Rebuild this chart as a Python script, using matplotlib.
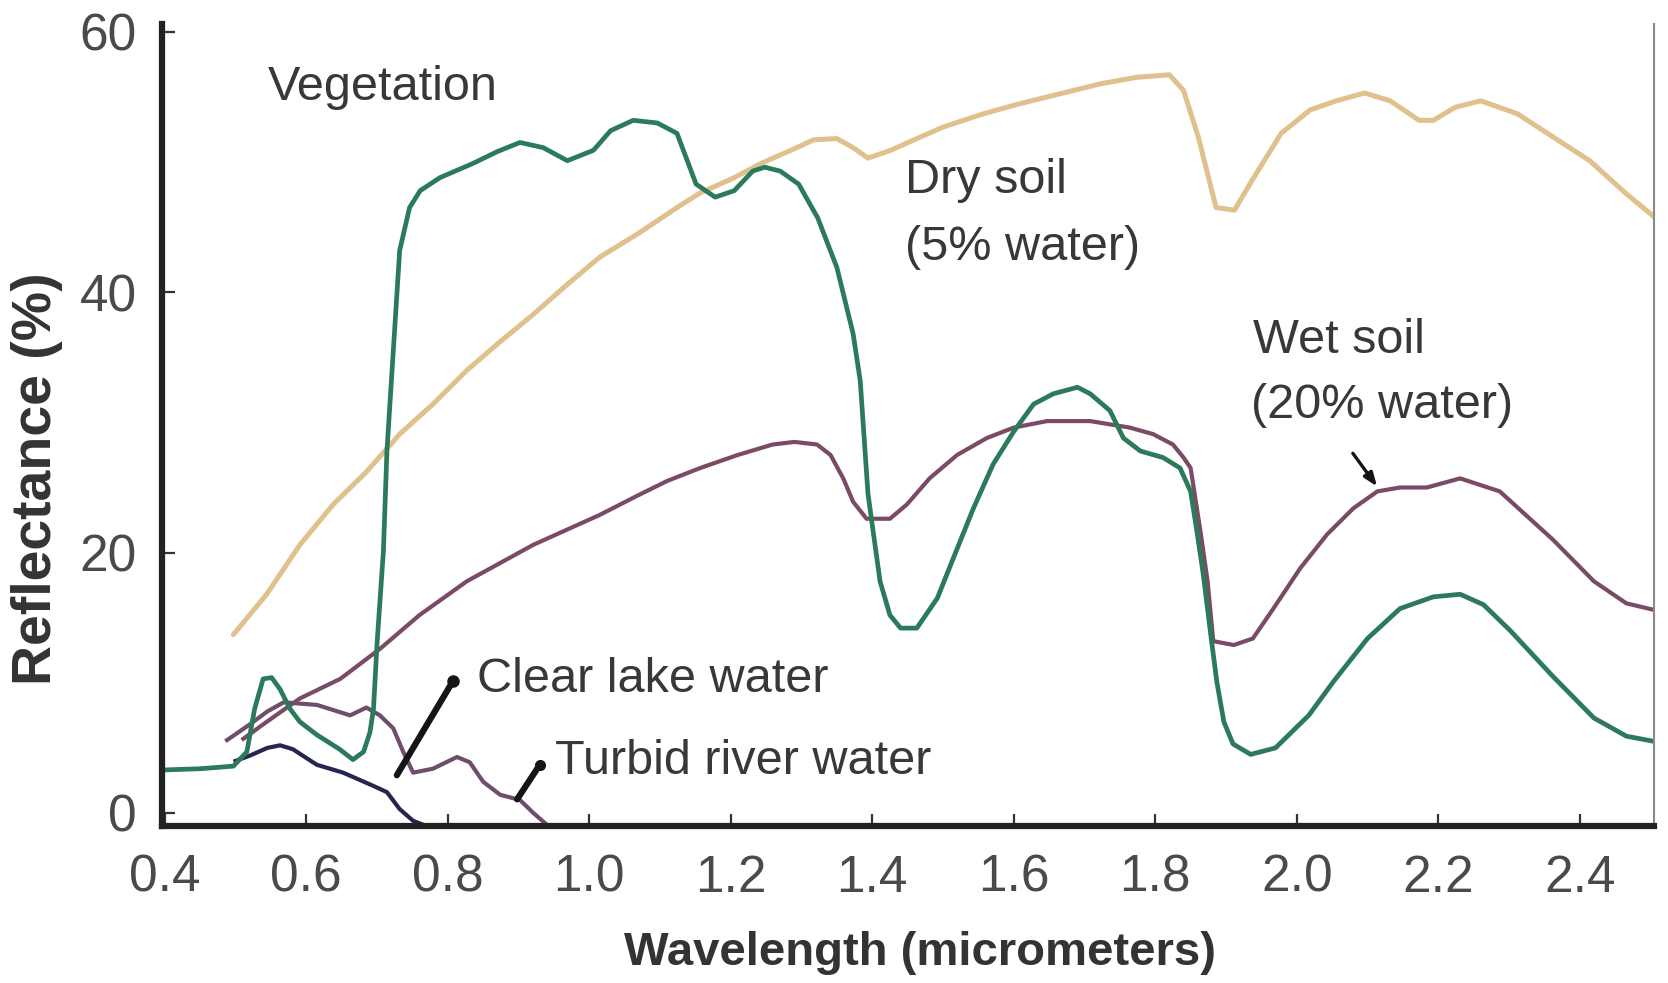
import numpy as np
import matplotlib
matplotlib.use("Agg")
import matplotlib.pyplot as plt

# Spectral reflectance curves (wavelength in micrometers, reflectance in %)
dry_soil_wl = [0.497, 0.544, 0.591, 0.638, 0.685, 0.732, 0.779, 0.827, 0.874, 0.921,
               0.969, 1.015, 1.069, 1.124, 1.156, 1.205, 1.243, 1.285, 1.317, 1.35,
               1.373, 1.394, 1.426, 1.459, 1.501, 1.557, 1.61, 1.67, 1.722, 1.773,
               1.82, 1.84, 1.861, 1.886, 1.912, 1.937, 1.978, 2.019, 2.056, 2.096,
               2.132, 2.173, 2.193, 2.224, 2.26, 2.312, 2.363, 2.414, 2.465, 2.505]
dry_soil_refl = [13.7, 16.8, 20.6, 23.7, 26.2, 29.1, 31.4, 34.0, 36.2, 38.3,
                 40.6, 42.7, 44.5, 46.5, 47.6, 48.8, 49.9, 50.9, 51.7, 51.8,
                 51.1, 50.3, 50.9, 51.7, 52.7, 53.7, 54.5, 55.3, 56.0, 56.5,
                 56.7, 55.5, 51.9, 46.5, 46.3, 48.6, 52.2, 54.0, 54.7, 55.3,
                 54.7, 53.2, 53.2, 54.2, 54.7, 53.7, 51.9, 50.1, 47.6, 45.8]

veg_wl = [0.396, 0.45, 0.497, 0.516, 0.527, 0.539, 0.551, 0.563, 0.577, 0.591,
          0.615, 0.647, 0.666, 0.681, 0.69, 0.695, 0.7, 0.709, 0.714, 0.723,
          0.732, 0.746, 0.761, 0.789, 0.836, 0.87, 0.902, 0.935, 0.969, 1.006,
          1.03, 1.062, 1.096, 1.124, 1.151, 1.178, 1.205, 1.231, 1.248, 1.27,
          1.296, 1.323, 1.35, 1.373, 1.383, 1.394, 1.411, 1.425, 1.44, 1.463,
          1.492, 1.52, 1.543, 1.571, 1.6, 1.628, 1.656, 1.69, 1.708, 1.736,
          1.755, 1.779, 1.811, 1.835, 1.85, 1.859, 1.868, 1.878, 1.887, 1.897,
          1.91, 1.935, 1.97, 2.017, 2.052, 2.1, 2.146, 2.193, 2.231, 2.264,
          2.302, 2.362, 2.42, 2.466, 2.505]
veg_refl = [3.3, 3.4, 3.6, 4.7, 8.0, 10.3, 10.4, 9.5, 8.0, 7.0,
            6.0, 4.9, 4.1, 4.7, 6.2, 8.0, 13.0, 20.1, 27.8, 35.5,
            43.2, 46.5, 47.8, 48.8, 49.9, 50.8, 51.5, 51.1, 50.1, 50.9,
            52.4, 53.2, 53.0, 52.2, 48.3, 47.3, 47.8, 49.3, 49.6, 49.3,
            48.3, 45.7, 41.9, 36.8, 33.2, 24.5, 17.8, 15.2, 14.2, 14.2,
            16.5, 20.3, 23.4, 26.8, 29.3, 31.4, 32.2, 32.7, 32.2, 30.9,
            28.8, 27.8, 27.3, 26.5, 24.7, 21.6, 18.3, 13.9, 10.1, 7.0,
            5.3, 4.5, 5.0, 7.5, 10.1, 13.4, 15.7, 16.6, 16.8, 16.0,
            14.0, 10.5, 7.3, 5.9, 5.5]

wet_soil_wl = [0.511, 0.544, 0.591, 0.648, 0.704, 0.76, 0.827, 0.921, 1.015, 1.069,
               1.11, 1.157, 1.21, 1.259, 1.29, 1.322, 1.341, 1.359, 1.373, 1.392,
               1.425, 1.449, 1.481, 1.52, 1.562, 1.6, 1.647, 1.708, 1.764, 1.797,
               1.825, 1.84, 1.85, 1.864, 1.874, 1.882, 1.911, 1.938, 1.967, 2.005,
               2.043, 2.08, 2.114, 2.146, 2.184, 2.231, 2.287, 2.362, 2.42, 2.466,
               2.505]
wet_soil_refl = [5.7, 7.0, 8.8, 10.3, 12.6, 15.2, 17.8, 20.6, 22.9, 24.4,
                 25.5, 26.5, 27.5, 28.3, 28.5, 28.3, 27.5, 25.7, 23.9, 22.6,
                 22.6, 23.7, 25.7, 27.5, 28.8, 29.6, 30.1, 30.1, 29.6, 29.1,
                 28.3, 27.3, 26.5, 21.6, 17.8, 13.2, 12.9, 13.4, 15.7, 18.8,
                 21.4, 23.4, 24.7, 25.0, 25.0, 25.7, 24.7, 21.0, 17.8, 16.1,
                 15.6]

clear_wl = [0.50, 0.52, 0.545, 0.563, 0.581, 0.615, 0.652, 0.694, 0.714, 0.732,
            0.751, 0.765]
clear_refl = [4.0, 4.4, 5.0, 5.2, 4.9, 3.7, 3.1, 2.1, 1.6, 0.3,
              -0.6, -0.9]

turbid_wl = [0.488, 0.52, 0.545, 0.568, 0.615, 0.662, 0.685, 0.704, 0.723, 0.737,
             0.751, 0.779, 0.813, 0.831, 0.85, 0.874, 0.902, 0.921, 0.94]
turbid_refl = [5.6, 6.8, 7.8, 8.5, 8.3, 7.5, 8.1, 7.5, 6.5, 4.7,
               3.1, 3.4, 4.3, 3.9, 2.4, 1.4, 1.0, 0.0, -0.9]

x_ticks = [0.4, 0.6, 0.8, 1.0, 1.2, 1.4, 1.6, 1.8, 2.0, 2.2, 2.4]
x_tick_labels = ["0.4", "0.6", "0.8", "1.0", "1.2", "1.4", "1.6", "1.8", "2.0", "2.2", "2.4"]
y_ticks = [0, 20, 40, 60]

FONT = ["Liberation Sans", "DejaVu Sans"]

fig = plt.figure(figsize=(16.68, 9.83), dpi=100)
ax = fig.add_axes([0.0971, 0.1597, 0.8945, 0.8159])

ax.plot(dry_soil_wl, dry_soil_refl, color="#e0c08c", lw=3.6, solid_capstyle="round")
ax.plot(wet_soil_wl, wet_soil_refl, color="#7b4a66", lw=3.0)
ax.plot(turbid_wl, turbid_refl, color="#6e4f6b", lw=3.0)
ax.plot(clear_wl, clear_refl, color="#242650", lw=3.0)
ax.plot(veg_wl, veg_refl, color="#2b7a5a", lw=3.4)

# pointer lines from labels to curves
ax.plot([0.807, 0.728], [10.1, 2.9], color="#151515", lw=4.5, solid_capstyle="round")
ax.plot([0.807], [10.1], "o", color="#151515", ms=8)
ax.plot([0.93, 0.898], [3.7, 1.05], color="#151515", lw=4.5, solid_capstyle="round")
ax.plot([0.93], [3.7], "o", color="#151515", ms=7)
ax.annotate("", xy=(2.116, 24.9), xytext=(2.077, 27.8),
            arrowprops=dict(arrowstyle="-|>,head_length=0.8,head_width=0.3",
                            color="#151515", lw=2.4))

text_kw = dict(fontsize=35, color="#383838", family=FONT, va="baseline", ha="left")
ax.text(0.546, 54.8, "Vegetation", **text_kw)
ax.text(1.447, 47.6, "Dry soil", **text_kw)
ax.text(1.447, 42.5, "(5% water)", **text_kw)
ax.text(1.938, 35.3, "Wet soil", **text_kw)
ax.text(1.936, 30.3, "(20% water)", **text_kw)
ax.text(0.841, 9.3, "Clear lake water", **text_kw)
ax.text(0.952, 3.0, "Turbid river water", **text_kw)

ax.set_xlim(0.396, 2.505)
ax.set_ylim(-1.0, 60.6)
ax.set_xticks(x_ticks)
ax.set_xticklabels(x_tick_labels)
ax.set_yticks(y_ticks)

for lbl in ax.get_xticklabels() + ax.get_yticklabels():
    lbl.set_family(FONT)
    lbl.set_fontsize(37)
    lbl.set_color("#4a4a4a")

ax.tick_params(axis="x", direction="in", length=9, width=1.6, color="#333333", pad=20)
ax.tick_params(axis="y", direction="in", length=9, width=1.6, color="#333333", pad=18)

ax.spines["top"].set_visible(False)
ax.spines["left"].set_linewidth(4.5)
ax.spines["bottom"].set_linewidth(4.5)
ax.spines["left"].set_color("#222222")
ax.spines["bottom"].set_color("#222222")
ax.spines["right"].set_linewidth(1.5)
ax.spines["right"].set_color("#8a8a8a")

ax.set_xlabel("Wavelength (micrometers)", fontsize=34, fontweight="bold",
              color="#333333", family=FONT)
ax.set_ylabel("Reflectance (%)", fontsize=40, fontweight="bold",
              color="#333333", family=FONT)
ax.xaxis.set_label_coords(0.508, -0.158)
ax.xaxis.label.set_verticalalignment("center")
ax.yaxis.set_label_coords(-0.0838, 0.433)
ax.yaxis.label.set_verticalalignment("center")

fig.savefig("out.png", dpi=100, facecolor="white")
